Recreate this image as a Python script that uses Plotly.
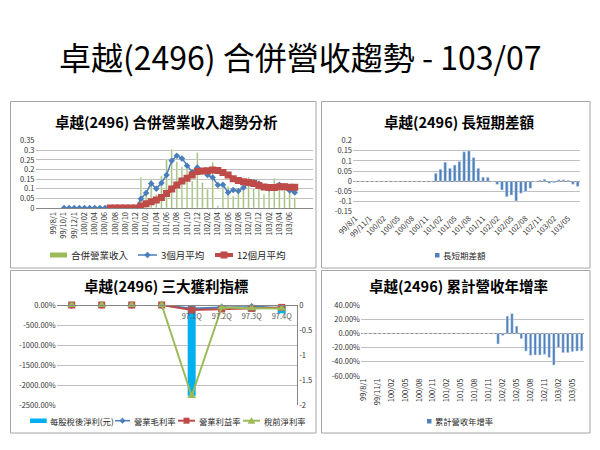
import plotly.graph_objects as go

W, H = 600, 450
def X(p): return p / W
def Y(p): return 1 - p / H

FONT = "Noto Sans CJK TC"
GRID = "#C0C0C0"
AXIS = "#868686"
TICK = "#333333"

# ---------------- data ----------------
months = ["99/8/1", "99/9/1", "99/10/1", "99/11/1", "99/12/1",
          "100/01", "100/02", "100/03", "100/04", "100/05", "100/06",
          "100/07", "100/08", "100/09", "100/10", "100/11", "100/12",
          "101/01", "101/02", "101/03", "101/04", "101/05", "101/06",
          "101/07", "101/08", "101/09", "101/10", "101/11", "101/12",
          "102/01", "102/02", "102/03", "102/04", "102/05", "102/06",
          "102/07", "102/08", "102/09", "102/10", "102/11", "102/12",
          "103/01", "103/02", "103/03", "103/04", "103/05", "103/06", "103/07"]

ticks_2m = ["99/8/1", "99/10/1", "99/12/1", "100/02", "100/04", "100/06",
            "100/08", "100/10", "100/12", "101/02", "101/04", "101/06",
            "101/08", "101/10", "101/12", "102/02", "102/04", "102/06",
            "102/08", "102/10", "102/12", "103/02", "103/04", "103/06"]

ticks_3m = ["99/8/1", "99/11/1", "100/02", "100/05", "100/08", "100/11",
            "101/02", "101/05", "101/08", "101/11", "102/02", "102/05",
            "102/08", "102/11", "103/02", "103/05"]

revenue = [0, 0, 0, 0, 0, 0, 0, 0, 0, 0, 0, 0, 0, 0, 0, 0, 0,
           0.158, 0.08, 0.152, 0.07, 0.167, 0.253, 0.305, 0.241, 0.215, 0.205, 0.141, 0.287,
           0.133, 0.098, 0.238, 0.012, 0.105, 0.113, 0.062, 0.094, 0.11, 0.16, 0.10, 0.135,
           0.072, 0.098, 0.155, 0.097, 0.11, 0.097, 0.055]

avg3 = [None, None, 0, 0, 0, 0, 0, 0, 0, 0, 0, 0, 0, 0, 0, 0, 0,
        0.048, 0.078, 0.128, 0.10, 0.13, 0.172, 0.246, 0.272, 0.258, 0.22, 0.186, 0.21,
        0.19, 0.172, 0.158, 0.12, 0.121, 0.08, 0.094, 0.089, 0.106, 0.128, 0.135, 0.128,
        0.11, 0.102, 0.107, 0.121, 0.115, 0.091, 0.081]

avg12 = [None, None, None, None, None, None, None, None, None, None, None,
         0, 0, 0, 0, 0, 0,
         0.011, 0.022, 0.033, 0.042, 0.055, 0.075, 0.099, 0.12, 0.14, 0.155, 0.172, 0.19,
         0.192, 0.194, 0.198, 0.195, 0.185, 0.172, 0.152, 0.143, 0.136, 0.133, 0.127, 0.117,
         0.109, 0.106, 0.106, 0.11, 0.111, 0.108, 0.108]

diff_ls = [0, 0, 0, 0, 0, 0, 0, 0, 0, 0, 0, 0, 0, 0, 0, 0, 0,
           0.039, 0.059, 0.094, 0.064, 0.08, 0.097, 0.145, 0.15, 0.117, 0.064, 0.02, 0.02,
           -0.003, -0.016, -0.043, -0.076, -0.068, -0.097, -0.059, -0.051, -0.035, -0.002, 0.005, 0.01,
           -0.01, -0.007, 0.007, 0.007, 0.005, -0.015, -0.026]

cum_yoy = [0, 0, 0, 0, 0, 0, 0, 0, 0, 0, 0, 0, 0, 0, 0, 0, 0,
           0, 0, 0, 0, 0, 0, 0, 0, 0, 0, 0, 0,
           -0.15, -0.03, 0.244, 0.28, 0.103, -0.075, -0.25, -0.31, -0.305, -0.305, -0.296, -0.338,
           -0.446, -0.20, -0.272, -0.272, -0.258, -0.249, -0.245]

quarters = ["", "", "", "", "97.1Q", "97.2Q", "97.3Q", "97.4Q"]
q_index = [0, 1, 2, 3, 4, 5, 6, 7]
eps = [0, 0, 0, 0, -1.82, -0.1, -0.13, -0.17]
gross_margin = [0, 0, 0, 0, -0.9, -0.6, -0.5, 0.15]
op_margin = [0, 0, 0, 0, -1.25, -1.0, -0.85, -0.6]
pretax_margin = [0, 0, 0, 0, -22.75, -0.6, -0.8, -0.85]

c1_yticks = [0, 0.05, 0.1, 0.15, 0.2, 0.25, 0.3, 0.35]
c1_ytext = ["0", "0.05", "0.1", "0.15", "0.2", "0.25", "0.3", "0.35"]
c2_yticks = [-0.15, -0.1, -0.05, 0, 0.05, 0.1, 0.15, 0.2]
c2_ytext = ["-0.15", "-0.1", "-0.05", "0", "0.05", "0.1", "0.15", "0.2"]
c3_lticks = [0, -5, -10, -15, -20, -25]
c3_ltext = ["0.00%", "-500.00%", "-1000.00%", "-1500.00%", "-2000.00%", "-2500.00%"]
c3_rticks = [0, -0.5, -1, -1.5, -2]
c3_rtext = ["0", "-0.5", "-1", "-1.5", "-2"]
c4_yticks = [0.4, 0.2, 0, -0.2, -0.4, -0.6]
c4_ytext = ["40.00%", "20.00%", "0.00%", "-20.00%", "-40.00%", "-60.00%"]

# ---------------- colors ----------------
GREEN = "#9BBB59"
BLUE = "#4A7EBB"
RED = "#BE4B48"
BARBLUE = "#4F81BD"
CYAN = "#00B0F0"

fig = go.Figure()

# chart 1
fig.add_trace(go.Bar(x=months, y=revenue, xaxis="x", yaxis="y", marker_color=GREEN,
                     width=0.3, name="合併營業收入"))
fig.add_trace(go.Scatter(x=months, y=avg3, xaxis="x", yaxis="y", mode="lines+markers",
                         line=dict(color=BLUE, width=1.5),
                         marker=dict(symbol="diamond", size=5, color=BLUE), name="3個月平均"))
fig.add_trace(go.Scatter(x=months, y=avg12, xaxis="x", yaxis="y", mode="lines+markers",
                         line=dict(color=RED, width=4),
                         marker=dict(symbol="square", size=7, color=RED), name="12個月平均"))
# chart 2
fig.add_trace(go.Bar(x=months, y=diff_ls, xaxis="x2", yaxis="y2", marker_color=BARBLUE,
                     width=0.6, name="長短期差額"))
# chart 3
fig.add_trace(go.Bar(x=q_index, y=eps, xaxis="x3", yaxis="y3", marker_color=CYAN,
                     width=0.28, name="每股稅後淨利(元)"))
fig.add_trace(go.Scatter(x=q_index, y=gross_margin, xaxis="x3", yaxis="y5", mode="lines+markers",
                         line=dict(color=BLUE, width=2), cliponaxis=False,
                         marker=dict(symbol="diamond", size=6, color=BLUE), name="營業毛利率"))
fig.add_trace(go.Scatter(x=q_index, y=op_margin, xaxis="x3", yaxis="y5", mode="lines+markers",
                         line=dict(color=RED, width=2), cliponaxis=False,
                         marker=dict(symbol="square", size=7, color=RED), name="營業利益率"))
fig.add_trace(go.Scatter(x=q_index, y=pretax_margin, xaxis="x3", yaxis="y5", mode="lines+markers",
                         line=dict(color=GREEN, width=2), cliponaxis=False,
                         marker=dict(symbol="triangle-up", size=8, color=GREEN), name="稅前淨利率"))
# chart 4
fig.add_trace(go.Bar(x=months, y=cum_yoy, xaxis="x4", yaxis="y4", marker_color=BARBLUE,
                     width=0.55, name="累計營收年增率"))

tickfont = dict(family=FONT, size=7.5, color=TICK)

def cat_x(domain, anchor, ticks, angle):
    return dict(domain=domain, anchor=anchor, type="category", categoryorder="array",
                categoryarray=months, tickmode="array", tickvals=ticks, ticktext=ticks,
                tickangle=angle, tickfont=tickfont, showgrid=False, zeroline=False,
                ticks="", fixedrange=True, automargin=False)

def val_y(domain, anchor, rng, tv, tt, showline=False):
    return dict(domain=domain, anchor=anchor, range=rng, tickmode="array", tickvals=tv,
                ticktext=tt, tickfont=tickfont, showgrid=True, gridcolor=GRID, gridwidth=1,
                zeroline=False, ticks="", showline=showline, automargin=False)

layout = dict(
    width=W, height=H, margin=dict(l=0, r=0, t=0, b=0, autoexpand=False),
    paper_bgcolor="white", plot_bgcolor="rgba(0,0,0,0)",
    showlegend=False, bargap=0, font=dict(family=FONT),
    xaxis=dict(cat_x([X(35.5), X(313)], "y", ticks_2m, -90), showline=True, linecolor=AXIS),
    yaxis=val_y([Y(208), Y(140.7)], "x", [0, 0.35], c1_yticks, c1_ytext),
    xaxis2=cat_x([X(353), X(580)], "y2", ticks_3m, -45),
    yaxis2=dict(val_y([Y(211.7), Y(140.7)], "x2", [-0.15, 0.2], c2_yticks, c2_ytext),
                zeroline=True, zerolinecolor=AXIS, zerolinewidth=1),
    xaxis3=dict(domain=[X(56.7), X(296.7)], anchor="free", position=Y(305), side="bottom",
                range=[-0.5, 7.5], tickmode="array", tickvals=q_index, ticktext=quarters,
                tickfont=dict(family=FONT, size=7.5, color="#595959"), ticklabelstandoff=4,
                showgrid=False, zeroline=False, ticks="",
                showline=True, linecolor=AXIS, fixedrange=True, automargin=False),
    yaxis3=dict(domain=[Y(405), Y(305)], anchor="x3", side="right", range=[-2, 0],
                tickmode="array", tickvals=c3_rticks, ticktext=c3_rtext, tickfont=tickfont,
                showgrid=False, zeroline=False, showline=True, linecolor=AXIS, ticks="",
                automargin=False),
    yaxis5=dict(overlaying="y3", anchor="x3", side="left", range=[-25, 0],
                tickmode="array", tickvals=c3_lticks, ticktext=c3_ltext, tickfont=tickfont,
                showgrid=True, gridcolor=GRID, zeroline=False, showline=False, ticks="",
                automargin=False),
    xaxis4=cat_x([X(361), X(584)], "y4", ticks_3m, -90),
    yaxis4=dict(val_y([Y(376), Y(305)], "x4", [-0.6, 0.4], c4_yticks, c4_ytext),
                zeroline=True, zerolinecolor=AXIS, zerolinewidth=1),
)

shapes = []
annotations = []

def rect(x0, y0, x1, y1, fill=None, line=None, lw=1):
    shapes.append(dict(type="rect", xref="paper", yref="paper", x0=X(x0), x1=X(x1),
                       y0=Y(y0), y1=Y(y1), fillcolor=fill or "rgba(0,0,0,0)",
                       line=dict(color=line or "rgba(0,0,0,0)", width=lw if line else 0)))

def seg(x0, x1, y, color, lw):
    shapes.append(dict(type="line", xref="paper", yref="paper", x0=X(x0), x1=X(x1),
                       y0=Y(y), y1=Y(y), line=dict(color=color, width=lw)))

def poly(points, color):
    path = "M " + " L ".join(f"{X(a):.5f},{Y(b):.5f}" for a, b in points) + " Z"
    shapes.append(dict(type="path", xref="paper", yref="paper", path=path,
                       fillcolor=color, line=dict(color=color, width=0.5)))

def text(x, y, s, size, anchor="left", bold=False, color="#262626"):
    annotations.append(dict(x=X(x), y=Y(y), xref="paper", yref="paper",
                            text=f"<b>{s}</b>" if bold else s, showarrow=False,
                            xanchor=anchor, yanchor="middle",
                            font=dict(family=FONT, size=size, color=color)))

# panel borders
rect(10.5, 101.5, 316, 268, line="#A6A6A6")
rect(321.5, 101.5, 590, 268, line="#A6A6A6")
rect(10.5, 270.5, 316, 433, line="#A6A6A6")
rect(321.5, 270.5, 590, 433, line="#A6A6A6")

# titles
text(300, 56, "卓越(2496) 合併營收趨勢 - 103/07", 32, anchor="center", color="#000000")
text(166, 122, "卓越(2496) 合併營業收入趨勢分析", 14.5, anchor="center", bold=True, color="#000000")
text(459, 122, "卓越(2496) 長短期差額", 14.5, anchor="center", bold=True, color="#000000")
text(166, 285, "卓越(2496) 三大獲利指標", 14.5, anchor="center", bold=True, color="#000000")
text(458, 285, "卓越(2496) 累計營收年增率", 14.5, anchor="center", bold=True, color="#000000")

# legend chart 1
rect(50, 252.5, 67, 257.5, fill=GREEN)
text(69, 255, "合併營業收入", 9.5)
seg(138, 157, 255, BLUE, 1.5)
poly([(147.5, 252), (150.5, 255), (147.5, 258), (144.5, 255)], BLUE)
text(159, 255, "3個月平均", 9.5)
seg(215, 233, 255, RED, 4)
rect(220.5, 251.5, 227.5, 258.5, fill=RED)
text(235, 255, "12個月平均", 9.5)

# legend chart 2
rect(435, 253, 439.5, 257.5, fill=BARBLUE)
text(441, 255.3, "長短期差額", 8.5)

# legend chart 3
rect(30, 418.5, 46.7, 423, fill=CYAN)
text(47.5, 420.7, "每股稅後淨利(元)", 8.3)
seg(115, 130, 420.7, BLUE, 1.5)
poly([(122.5, 418), (125.3, 420.7), (122.5, 423.4), (119.7, 420.7)], BLUE)
text(131.5, 420.7, "營業毛利率", 8.3)
seg(178, 195, 420.7, RED, 2)
rect(183.5, 417.7, 189.5, 423.7, fill=RED)
text(196.5, 420.7, "營業利益率", 8.3)
seg(243, 260, 420.7, GREEN, 2)
poly([(251.5, 417.5), (255, 423.5), (248, 423.5)], GREEN)
text(261.5, 420.7, "稅前淨利率", 8.3)

# legend chart 4
rect(427, 419, 431.5, 423.5, fill=BARBLUE)
text(433, 421.2, "累計營收年增率", 8.3)

layout["shapes"] = shapes
layout["annotations"] = annotations
fig.update_layout(**layout)

fig.write_html("out.html", config={"displayModeBar": False, "staticPlot": True},
               post_script="document.body.style.margin='0';document.body.style.overflow='hidden';")
